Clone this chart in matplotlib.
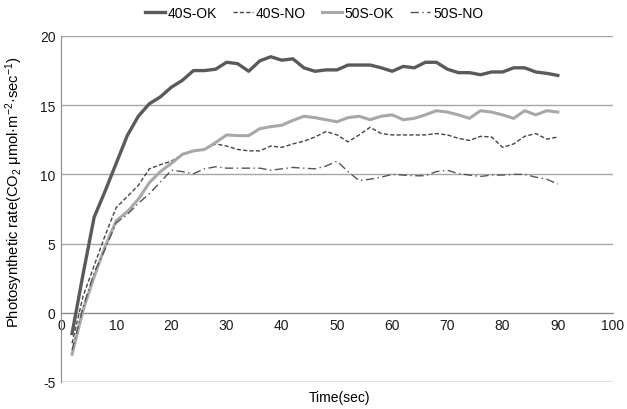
import numpy as np
import matplotlib
matplotlib.use("Agg")
import matplotlib.pyplot as plt

plt.rcParams['font.family'] = ['Liberation Sans', 'DejaVu Sans']
plt.rcParams['mathtext.fontset'] = 'custom'
plt.rcParams['mathtext.rm'] = 'Liberation Sans'
plt.rcParams['mathtext.it'] = 'Liberation Sans'
plt.rcParams['axes.unicode_minus'] = False

time = np.arange(2, 91, 2)

ok_40 = [-1.5, 2.8, 6.9, 8.8, 10.8, 12.8, 14.2, 15.1, 15.6, 16.3, 16.8, 17.5, 17.5, 17.6, 18.1,
         18.0, 17.45, 18.2, 18.5, 18.25, 18.35, 17.7, 17.45, 17.55, 17.55, 17.9, 17.9, 17.9, 17.7,
         17.45, 17.8, 17.7, 18.1, 18.1, 17.6, 17.35, 17.35, 17.2, 17.4, 17.4, 17.7, 17.7, 17.4,
         17.3, 17.15]
no_40 = [-2.2, 1.2, 3.4, 5.6, 7.6, 8.4, 9.2, 10.4, 10.7, 10.95, 11.45, 11.7, 11.8, 12.2, 12.05,
         11.8, 11.7, 11.7, 12.05, 11.95, 12.2, 12.4, 12.7, 13.1, 12.85, 12.35, 12.85, 13.4, 12.95,
         12.85, 12.85, 12.85, 12.85, 12.95, 12.85, 12.6, 12.45, 12.75, 12.7, 11.95, 12.2, 12.75,
         12.95, 12.55, 12.7]
ok_50 = [-3.0, 0.2, 2.6, 4.8, 6.65, 7.3, 8.2, 9.4, 10.2, 10.8, 11.45, 11.7, 11.8, 12.3, 12.85,
         12.8, 12.8, 13.3, 13.45, 13.55, 13.9, 14.2, 14.1, 13.95, 13.8, 14.1, 14.2, 13.95, 14.2,
         14.3, 13.95, 14.05, 14.3, 14.6, 14.5, 14.3, 14.05, 14.6, 14.5, 14.3, 14.05, 14.6, 14.3,
         14.6, 14.5]
no_50 = [-2.7, 0.4, 2.9, 4.6, 6.5, 7.1, 7.9, 8.6, 9.45, 10.3, 10.2, 10.05, 10.4, 10.55, 10.45,
         10.45, 10.45, 10.45, 10.3, 10.4, 10.5, 10.45, 10.4, 10.6, 10.95, 10.2, 9.55, 9.65, 9.8,
         10.0, 9.95, 9.9, 9.9, 10.2, 10.3, 10.05, 9.95, 9.85, 9.95, 9.95, 10.0, 10.0, 9.8, 9.65,
         9.3]

fig = plt.figure(figsize=(6.27, 4.10), dpi=100)
ax = fig.add_axes([0.0973, 0.0659, 0.8804, 0.8439])

ax.plot(time, ok_40, color='#5a5a5a', lw=2.4, label='40S-OK', zorder=4)
ax.plot(time, no_40, color='#444444', lw=1.0, ls=(0, (3, 1.6)), label='40S-NO', zorder=3)
ax.plot(time, ok_50, color='#a8a8a8', lw=2.2, label='50S-OK', zorder=3)
ax.plot(time, no_50, color='#555555', lw=1.0, ls=(0, (6, 2.5, 1, 2.5)), label='50S-NO', zorder=3)

ax.set_xlim(0, 100)
ax.set_ylim(-5, 20)
ax.set_xticks(np.arange(0, 101, 10))
ax.set_yticks(np.arange(-5, 21, 5))
ax.yaxis.grid(True, color='#a6a6a6', lw=1.0)
ax.set_axisbelow(True)

for s in ['top', 'right']:
    ax.spines[s].set_visible(False)
ax.spines['bottom'].set_position(('data', 0))
ax.spines['bottom'].set_color('#8c8c8c')
ax.spines['left'].set_color('#8c8c8c')
ax.axhline(-5, color='#a6a6a6', lw=1.0, zorder=1)
ax.tick_params(length=0, labelsize=10, colors='#1a1a1a', pad=4)

ax.set_xlabel('Time(sec)', fontsize=10)
ax.xaxis.set_label_coords(0.504, -0.024)
ax.set_ylabel(r'Photosynthetic rate(CO$_2$ μmol·m$^{-2}$·sec$^{-1}$)', fontsize=10.6)
ax.yaxis.set_label_coords(-0.066, 0.551)

ax.legend(loc='center', bbox_to_anchor=(0.458, 1.066), ncol=4, frameon=False,
          fontsize=10, handlelength=1.45, handletextpad=0.2, columnspacing=1.15)

fig.savefig('out.png', dpi=100)
